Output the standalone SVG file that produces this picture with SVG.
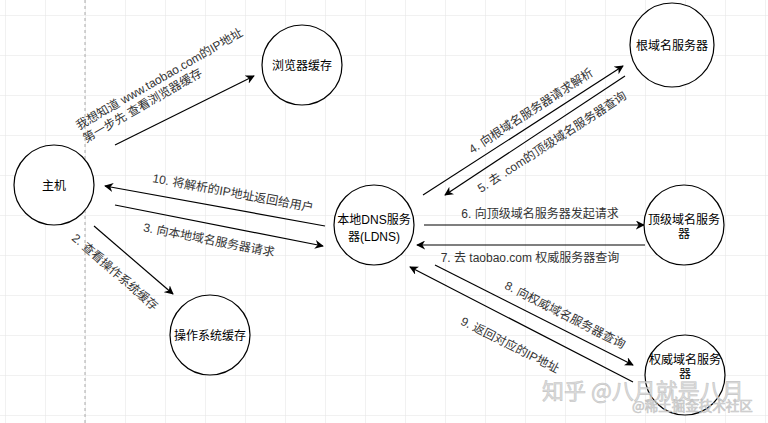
<svg xmlns="http://www.w3.org/2000/svg" width="768" height="423" viewBox="0 0 768 423">
<defs>
<pattern id="grid" x="5" y="15" width="40" height="40" patternUnits="userSpaceOnUse">
<path d="M0 0 H40 M0 0 V40" fill="none" stroke="#e4e4e4" stroke-width="1"/>
</pattern>
<marker id="arr" viewBox="0 0 10 10" refX="9" refY="5" markerWidth="9" markerHeight="9" markerUnits="userSpaceOnUse" orient="auto">
<path d="M0 0 L10 5 L0 10 L3 5 Z" fill="#000"/>
</marker>
</defs>
<style>
.node circle{fill:#fff;stroke:#000;stroke-width:1.2}
.nl{font-family:"Liberation Sans","Noto Sans CJK SC",sans-serif;font-size:12px;fill:#000;text-anchor:middle}
.el{font-family:"Liberation Sans","Noto Sans CJK SC",sans-serif;font-size:12px;fill:#333;text-anchor:middle}
.edge{stroke:#000;stroke-width:1.2;fill:none;marker-end:url(#arr)}
.wm{font-family:"Noto Sans CJK SC",sans-serif;fill:#d8d8d8;stroke:#bbb;stroke-width:0.6;opacity:0.85}
</style>
<rect width="768" height="423" fill="#fff"/>
<rect width="768" height="423" fill="url(#grid)"/>
<line x1="85" y1="0" x2="85" y2="423" stroke="#aaa" stroke-width="1" stroke-dasharray="3,3"/>

<g id="connectors">
<line class="edge" x1="115" y1="145" x2="254" y2="76"/>
<line class="edge" x1="325" y1="226" x2="105" y2="186"/>
<line class="edge" x1="115" y1="205" x2="323" y2="246"/>
<line class="edge" x1="94" y1="226" x2="173" y2="294"/>
<line class="edge" x1="423" y1="195" x2="623" y2="66"/>
<line class="edge" x1="625" y1="76" x2="445" y2="195"/>
<line class="edge" x1="424" y1="225" x2="644" y2="225"/>
<line class="edge" x1="645" y1="245" x2="417" y2="245"/>
<line class="edge" x1="435" y1="265" x2="633" y2="365"/>
<line class="edge" x1="633" y1="382" x2="410" y2="267"/>
<text class="el" style="text-anchor:start" transform="translate(79,130) rotate(-30)">我想知道 www.taobao.com的IP地址</text>
<text class="el" style="text-anchor:start" transform="translate(86,143) rotate(-30)">第一步先 查看浏览器缓存</text>
<text class="el" transform="translate(233,193) rotate(10.5)" y="4">10. 将解析的IP地址返回给用户</text>
<text class="el" transform="translate(209,240) rotate(11)" y="4">3. 向本地域名服务器请求</text>
<text class="el" transform="translate(115,272) rotate(41)" y="4">2. 查看操作系统缓存</text>
<text class="el" transform="translate(531,111) rotate(-33)" y="4">4. 向根域名服务器请求解析</text>
<text class="el" transform="translate(552,142) rotate(-33)" y="4">5. 去 .com的顶级域名服务器查询</text>
<text class="el" x="540" y="218">6. 向顶级域名服务器发起请求</text>
<text class="el" x="530" y="262">7. 去 taobao.com 权威服务器查询</text>
<text class="el" transform="translate(565,315) rotate(27)" y="4">8. 向权威域名服务器查询</text>
<text class="el" transform="translate(510,345) rotate(27)" y="4">9. 返回对应的IP地址</text>
</g>

<g id="host" class="node"><circle cx="54" cy="185" r="40"/><text class="nl" x="54" y="190">主机</text></g>
<g id="browser-cache" class="node"><circle cx="302" cy="65" r="40"/><text class="nl" x="302" y="70">浏览器缓存</text></g>
<g id="os-cache" class="node"><circle cx="210" cy="335" r="40"/><text class="nl" x="210" y="340">操作系统缓存</text></g>
<g id="ldns" class="node"><circle cx="374" cy="225" r="40"/><text class="nl" x="374" y="224">本地DNS服务</text><text class="nl" x="374" y="241">器(LDNS)</text></g>
<g id="root" class="node"><circle cx="672" cy="45" r="42"/><text class="nl" x="672" y="50">根域名服务器</text></g>
<g id="tld" class="node"><circle cx="684" cy="225" r="40"/><text class="nl" x="684" y="224">顶级域名服务</text><text class="nl" x="684" y="238">器</text></g>
<g id="auth" class="node"><circle cx="685" cy="375" r="40"/><text class="nl" x="685" y="364">权威域名服务</text><text class="nl" x="685" y="378">器</text></g>

<text class="wm" x="542" y="399" font-size="22">知乎 @八月就是八月</text>
<text class="wm" x="632" y="411" font-size="13.5">@稀土掘金技术社区</text>
</svg>
